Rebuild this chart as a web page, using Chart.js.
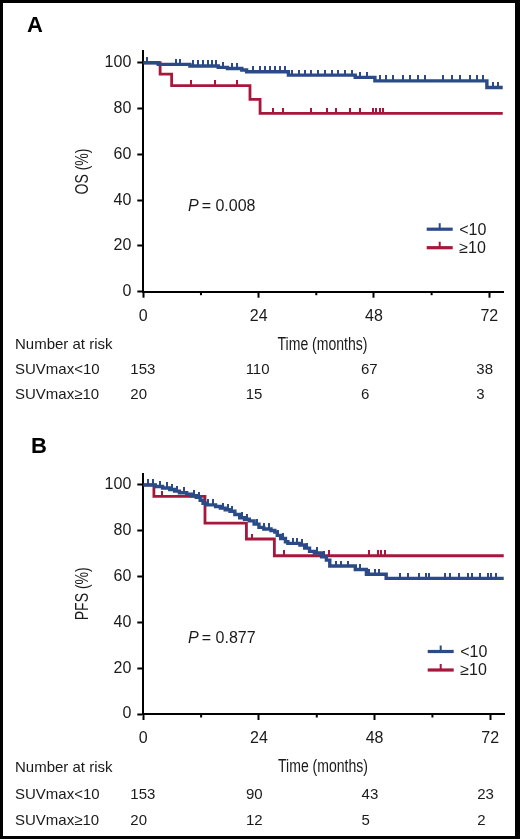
<!DOCTYPE html>
<html><head><meta charset="utf-8">
<script src="https://cdn.jsdelivr.net/npm/chart.js@4.4.1/dist/chart.umd.min.js"></script>
<style>
html,body{margin:0;padding:0;background:#fff;}
#wrap{position:relative;width:520px;height:839px;overflow:hidden;background:#fff;}
canvas{position:absolute;left:0;}
#frame{position:absolute;left:0;top:0;width:520px;height:839px;box-sizing:border-box;border:3px solid #000;border-right-width:5px;pointer-events:none;}
</style></head><body>
<div id="wrap">
<canvas id="cA" width="520" height="420" style="top:0"></canvas>
<canvas id="cB" width="520" height="419" style="top:420px"></canvas>
<div id="frame"></div>
</div>
<script>
// ---------- data ----------
const groupLabels = ['<10', '≥10'];
const riskRowLabels = ['SUVmax<10', 'SUVmax≥10'];
const riskTimes = [0, 24, 48, 72];
const xTickValues = [0, 24, 48, 72];
const lastFollowUp = 74.8;

// Panel A: overall survival
const osLowTimes = [0, 3.1, 9.7, 15.6, 17.5, 20.5, 21.5, 30.2, 44.1, 48.2, 71.5];
const osLowSurv  = [100, 99.3, 98.6, 98.0, 97.5, 96.8, 96.1, 94.6, 93.6, 92.1, 89.2];
const osLowCensor = [0.8, 6.9, 7.6, 10.4, 11.4, 12.5, 13.5, 14.2, 15.1, 16.6, 18.4, 19.4, 22.9, 24.3, 25.3, 26.4, 27.4, 28.4, 29.5, 30.9, 32.3, 33.6, 35, 36.4, 37.8, 39.2, 40.6, 42, 43.4, 45.1, 46.5, 49.3, 50.6, 52, 54.1, 55.5, 57.2, 58.6, 62.4, 64.2, 65.9, 68, 69.4, 70.7, 72.8, 73.9];
const osHighTimes = [0, 3.5, 5.9, 22.2, 24.3];
const osHighSurv  = [100, 95, 90, 84, 77.9];
const osHighCensor = [10, 14.9, 19.4, 27, 29, 34.8, 38.2, 40.2, 43, 45, 47.8, 48.5, 49.2, 49.9];
const osRiskLow  = [153, 110, 67, 38];
const osRiskHigh = [20, 15, 6, 3];
const osPValue = '0.008';

// Panel B: progression-free survival
const pfsLowTimes = [0, 2.5, 4, 5.5, 6.5, 7.5, 9, 10, 11, 11.8, 12.4, 13, 15, 16, 17, 18, 19, 20, 21, 22, 23, 24, 25, 26.5, 27.3, 27.8, 28.5, 29.5, 30, 32.5, 33.5, 34.5, 35.5, 37, 38, 38.7, 44, 46.3, 50.4];
const pfsLowSurv  = [100, 99.3, 98.7, 98, 97.3, 96.6, 96, 95.3, 94.6, 93.3, 92, 91.3, 90.6, 89.9, 89.2, 88.5, 87.1, 85.7, 85, 84.3, 82.9, 81.5, 80.8, 80.1, 79.4, 78, 76.6, 75.2, 74.5, 73.8, 72.4, 71, 70.3, 68.6, 67.2, 64.6, 63.1, 61, 59.2];
const pfsLowCensor = [1, 2, 3.5, 5, 6, 7, 8.5, 10.5, 11.5, 13.5, 14.5, 16.5, 17.5, 18.5, 20.5, 21.5, 23.5, 25, 26, 28, 29, 31, 32, 33, 34, 36, 37.5, 40, 41, 42.5, 45, 46.8, 48, 49, 53.2, 54.9, 57.2, 58.7, 59.3, 62.7, 63.7, 65.5, 67.4, 68.3, 69.8, 71.5, 72.2, 73.1];
const pfsHighTimes = [0, 2.2, 12.8, 21.4, 27.2];
const pfsHighSurv  = [100, 95, 83.3, 76.4, 69.1];
const pfsHighCensor = [3.8, 22.5, 29.2, 38.6, 46.8, 48.7, 49.4, 50.2];
const pfsRiskLow  = [153, 90, 43, 23];
const pfsRiskHigh = [20, 12, 5, 2];
const pfsPValue = '0.877';

// ---------- styles ----------
const BLUE = '#2b4a88';
const RED = '#a5173b';
const TXT = '#1a1a1a';
const SANS = "'Liberation Sans', Arial, Helvetica, sans-serif";

function kmPoints(times, surv) {
  const pts = times.map((t, i) => ({ x: t, y: surv[i] }));
  pts.push({ x: lastFollowUp, y: surv[surv.length - 1] });
  return pts;
}
function survAt(times, surv, t) {
  let v = surv[0];
  for (let i = 0; i < times.length; i++) if (times[i] <= t) v = surv[i];
  return v;
}
function censorPoints(cens, times, surv) {
  return cens.map(t => ({ x: t, y: survAt(times, surv, t) }));
}
function tickImg(color) {
  const c = document.createElement('canvas');
  c.width = 2; c.height = 11;
  const g = c.getContext('2d');
  g.fillStyle = color;
  g.fillRect(0, 0, 2, 5.5);
  return c;
}
function narrowText(ctx, text, x, y, rot) {
  ctx.save();
  ctx.translate(x, y);
  if (rot) ctx.rotate(-Math.PI / 2);
  ctx.scale(0.78, 1);
  ctx.textAlign = 'center';
  ctx.textBaseline = 'middle';
  ctx.font = '18px ' + SANS;
  ctx.fillText(text, 0, 0);
  ctx.restore();
}

function buildPanel(p) {
  const canvas = document.getElementById(p.id);
  const H = 61.5;
  const extras = {
    id: 'extras' + p.id,
    afterDraw(chart) {
      const ctx = chart.ctx, xs = chart.scales.x, ys = chart.scales.y, ca = chart.chartArea;
      ctx.save();
      // minor x ticks
      ctx.strokeStyle = '#000'; ctx.lineWidth = 2;
      for (let v = 12; v < 75; v += 24) {
        const px = xs.getPixelForValue(v);
        ctx.beginPath(); ctx.moveTo(px, ca.bottom); ctx.lineTo(px, ca.bottom + 3.5); ctx.stroke();
      }
      // axis titles (condensed)
      ctx.fillStyle = TXT;
      narrowText(ctx, 'Time (months)', (ca.left + ca.right) / 2 - 1, ca.bottom + 53, false);
      narrowText(ctx, p.yTitle, 83, (ca.top + ca.bottom) / 2, true);
      // panel letter
      ctx.fillStyle = '#000';
      ctx.textBaseline = 'middle'; ctx.textAlign = 'left';
      ctx.font = 'bold 22px ' + SANS;
      ctx.fillText(p.letter, p.letterX, p.letterY);
      // P value
      ctx.fillStyle = TXT;
      const px0 = xs.getPixelForValue(p.pPos[0]), py0 = ys.getPixelForValue(p.pPos[1]);
      ctx.font = 'italic 16px ' + SANS;
      ctx.fillText('P', px0, py0);
      const wP = ctx.measureText('P').width;
      ctx.font = '16px ' + SANS;
      ctx.fillText('= ' + p.pValue, px0 + wP + 3, py0);
      // legend
      const colors = [BLUE, RED];
      const legY = [ca.bottom - 62.5, ca.bottom - 44];
      const lx0 = ca.right - 77, lx1 = ca.right - 51;
      for (let i = 0; i < 2; i++) {
        ctx.strokeStyle = colors[i]; ctx.lineWidth = 3.2;
        ctx.beginPath(); ctx.moveTo(lx0, legY[i]); ctx.lineTo(lx1, legY[i]); ctx.stroke();
        ctx.fillStyle = colors[i];
        ctx.fillRect((lx0 + lx1) / 2 - 1, legY[i] - 6, 2, 6);
        ctx.fillStyle = TXT;
        ctx.font = '16px ' + SANS;
        ctx.fillText(groupLabels[i], lx1 + 6.5, legY[i] + 1);
      }
      // risk table
      ctx.fillStyle = TXT;
      ctx.font = '15px ' + SANS;
      ctx.fillText('Number at risk', 15, ca.bottom + 53.5);
      const rows = [p.riskLow, p.riskHigh];
      for (let r = 0; r < 2; r++) {
        const y = ca.bottom + p.rowOff[r] + 2;
        ctx.fillText(riskRowLabels[r], 15, y);
        riskTimes.forEach((t, i) => {
          ctx.fillText(String(rows[r][i]), xs.getPixelForValue(t) - 13, y);
        });
      }
      ctx.restore();
    }
  };
  new Chart(canvas, {
    type: 'line',
    data: {
      datasets: [
        { data: censorPoints(p.lowCens, p.lowT, p.lowS), showLine: false, pointStyle: tickImg(BLUE), pointRadius: 4, pointHoverRadius: 4, borderColor: BLUE, backgroundColor: BLUE, order: 0 },
        { data: censorPoints(p.highCens, p.highT, p.highS), showLine: false, pointStyle: tickImg(RED), pointRadius: 4, pointHoverRadius: 4, borderColor: RED, backgroundColor: RED, order: 0 },
        { label: groupLabels[0], data: kmPoints(p.lowT, p.lowS), stepped: 'before', borderColor: BLUE, borderWidth: 3.4, pointRadius: 0, fill: false, order: 1 },
        { label: groupLabels[1], data: kmPoints(p.highT, p.highS), stepped: 'before', borderColor: RED, borderWidth: 2.8, pointRadius: 0, fill: false, order: 2 }
      ]
    },
    options: {
      responsive: false,
      animation: false,
      events: [],
      layout: { padding: { left: 68.8, top: p.top, right: 520 - p.right, bottom: canvas.height - p.bottom - H } },
      plugins: { legend: { display: false }, tooltip: { enabled: false } },
      scales: {
        x: {
          type: 'linear', min: 0, max: 75,
          afterFit(s) { s.height = H; },
          afterBuildTicks(s) { s.ticks = xTickValues.map(v => ({ value: v })); },
          ticks: { autoSkip: false, maxRotation: 0, padding: 9, color: TXT, font: { family: SANS, size: 16 } },
          grid: { drawOnChartArea: false, tickLength: 6, tickWidth: 2, tickColor: '#000' },
          border: { color: '#000', width: 2 },
          title: { display: false }
        },
        y: {
          min: 0, max: 105,
          afterFit(s) { s.width = 143.3 - 68.8; },
          ticks: { stepSize: 20, includeBounds: false, padding: 6, color: TXT, font: { family: SANS, size: 16 } },
          grid: { drawOnChartArea: false, tickLength: 6, tickWidth: 2, tickColor: '#000' },
          border: { color: '#000', width: 2 },
          title: { display: false }
        }
      }
    },
    plugins: [extras]
  });
}

buildPanel({
  id: 'cA', letter: 'A', letterX: 27, letterY: 25.5, yTitle: 'OS (%)',
  top: 51.3, bottom: 291.7, right: 503.7,
  lowT: osLowTimes, lowS: osLowSurv, lowCens: osLowCensor,
  highT: osHighTimes, highS: osHighSurv, highCens: osHighCensor,
  riskLow: osRiskLow, riskHigh: osRiskHigh, rowOff: [76.5, 101.5],
  pValue: osPValue, pPos: [9.3, 37]
});
buildPanel({
  id: 'cB', letter: 'B', letterX: 31, letterY: 26.5, yTitle: 'PFS (%)',
  top: 53.5, bottom: 294, right: 504.7,
  lowT: pfsLowTimes, lowS: pfsLowSurv, lowCens: pfsLowCensor,
  highT: pfsHighTimes, highS: pfsHighSurv, highCens: pfsHighCensor,
  riskLow: pfsRiskLow, riskHigh: pfsRiskHigh, rowOff: [78.5, 104.5],
  pValue: pfsPValue, pPos: [9.3, 33]
});
</script>
</body></html>
